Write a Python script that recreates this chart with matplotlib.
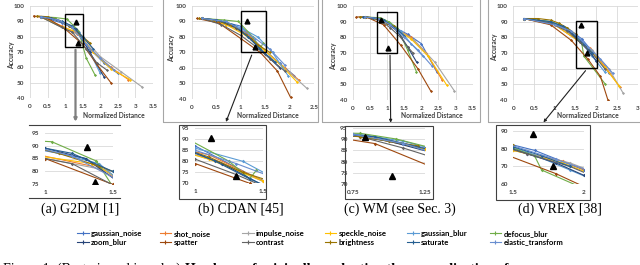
import matplotlib
matplotlib.use('Agg')
import matplotlib.pyplot as plt
from matplotlib.lines import Line2D
from matplotlib.patches import Rectangle, FancyArrowPatch

plt.rcParams['font.family'] = ['Lato', 'DejaVu Sans']

# ---------------- data ----------------
corruptions = ['gaussian_noise', 'shot_noise', 'impulse_noise', 'speckle_noise',
               'gaussian_blur', 'defocus_blur', 'zoom_blur', 'spatter',
               'contrast', 'brightness', 'saturate', 'elastic_transform']
colors = ['#4472C4', '#ED7D31', '#A5A5A5', '#FFC000', '#5B9BD5', '#70AD47',
          '#264478', '#9E480E', '#636363', '#997300', '#255E91', '#698ED0']

g2dm_x = [[0.3, 0.9, 1.3, 1.7, 2.1, 2.5], [0.3, 0.9, 1.35, 1.8, 2.3, 2.8],
          [0.3, 1.0, 1.5, 2.0, 2.6, 3.2], [0.3, 0.95, 1.35, 1.8, 2.3, 2.85],
          [0.3, 0.7, 1.1, 1.4, 1.7, 2.0], [0.3, 0.7, 1.05, 1.38, 1.6, 1.85],
          [0.3, 0.6, 1.0, 1.3, 1.7, 2.1], [0.1, 0.5, 1.0, 1.5, 1.9, 2.3],
          [0.3, 0.9, 1.2, 1.6, 1.9, 2.2], [0.2, 0.5, 0.8, 1.1, 1.4, 1.7],
          [0.3, 0.6, 0.9, 1.2, 1.5, 1.8], [0.3, 0.8, 1.2, 1.6, 2.0, 2.4]]
g2dm_y = [[93, 89, 85, 72, 63, 56], [93, 87, 82, 70, 60, 52],
          [93, 85, 80, 67, 57, 47], [93, 86, 83, 70, 59, 52],
          [93, 92, 87, 83, 70, 56], [93, 92.5, 91.5, 84, 66, 55],
          [93, 92, 89, 85, 70, 54], [93.5, 92, 85, 75, 62, 50],
          [93, 86, 83, 72, 63, 58], [93.5, 93, 91, 87, 82, 76],
          [93, 92, 90, 87, 80, 72], [93, 91, 86, 75, 66, 58]]
g2dm_tri_x = [1.31, 1.37]
g2dm_tri_y = [89.5, 76]

cdan_x = [[0.2, 0.6, 1.0, 1.4, 1.8, 2.1], [0.2, 0.7, 1.1, 1.5, 1.9, 2.2],
          [0.2, 0.8, 1.2, 1.6, 2.0, 2.35], [0.2, 0.7, 1.1, 1.5, 1.85, 2.15],
          [0.2, 0.6, 1.0, 1.35, 1.65, 1.97], [0.2, 0.65, 0.95, 1.25, 1.4, 1.45],
          [0.2, 0.5, 0.9, 1.2, 1.5, 1.8], [0.1, 0.55, 1.0, 1.4, 1.75, 2.02],
          [0.2, 0.6, 1.0, 1.3, 1.6, 1.9], [0.15, 0.45, 0.8, 1.1, 1.35, 1.6],
          [0.2, 0.5, 0.85, 1.15, 1.4, 1.7], [0.2, 0.7, 1.0, 1.3, 1.6, 1.9]]
cdan_y = [[92, 90, 87, 74, 63, 55], [92, 88, 83, 71, 60, 52],
          [92, 87, 79, 68, 57, 47], [92, 88, 81, 71, 61, 51],
          [92, 90, 86, 80, 70, 55], [92, 91, 90, 80, 72, 76],
          [92, 91, 86, 79, 69, 60], [92, 89, 79, 70, 58, 41],
          [92, 88, 81, 74, 66, 58], [92, 91, 88, 82, 75, 70],
          [92, 91, 88, 80, 72, 64], [92, 90, 85, 79, 72, 62]]
cdan_tri_x = [1.12, 1.3]
cdan_tri_y = [90.5, 73.5]

wm_x = [[0.35, 0.85, 1.25, 1.6, 2.0, 2.45], [0.35, 0.85, 1.25, 1.7, 2.15, 2.6],
        [0.35, 0.9, 1.3, 1.8, 2.4, 2.96], [0.35, 0.85, 1.25, 1.7, 2.2, 2.74],
        [0.35, 0.8, 1.1, 1.4, 1.7, 2.05], [0.35, 0.8, 1.05, 1.3, 1.6, 1.86],
        [0.35, 0.7, 1.0, 1.3, 1.6, 1.87], [0.1, 0.4, 0.9, 1.4, 1.9, 2.27],
        [0.35, 0.8, 1.1, 1.4, 1.6, 1.76], [0.2, 0.4, 0.6, 0.8, 1.0, 1.2],
        [0.3, 0.6, 0.9, 1.1, 1.3, 1.5], [0.35, 0.75, 1.1, 1.5, 1.9, 2.3]]
wm_y = [[93, 91.5, 86, 82, 76, 58], [93, 91, 85.5, 80, 70, 53],
        [93, 91, 85, 78, 64, 46], [93, 91, 85.5, 79, 68, 49.6],
        [93, 92, 89, 84, 76, 68], [93, 92.5, 90, 86, 72, 58],
        [93, 92, 89, 84, 74, 64], [93, 93, 88, 75, 60, 46],
        [93, 91, 86, 80, 74, 70], [93, 93, 92.5, 91, 89, 87],
        [93, 92.5, 91, 88, 85, 81], [93, 92, 88, 80, 72, 62]]
wm_tri_x = [0.83, 1.02]
wm_tri_y = [91, 73.5]

vrex_x = [[0.25, 0.9, 1.3, 1.65, 2.0, 2.31], [0.25, 1.0, 1.5, 1.85, 2.2, 2.56],
          [0.25, 1.0, 1.5, 1.9, 2.3, 2.64], [0.25, 1.0, 1.5, 1.85, 2.2, 2.55],
          [0.25, 0.9, 1.3, 1.6, 1.9, 2.2], [0.25, 0.9, 1.3, 1.65, 1.7, 2.22],
          [0.25, 0.9, 1.3, 1.6, 1.8, 2.0], [0.25, 0.9, 1.4, 1.8, 2.1, 2.28],
          [0.25, 0.9, 1.3, 1.6, 1.9, 2.2], [0.25, 0.6, 0.9, 1.1, 1.3, 1.5],
          [0.25, 0.9, 1.2, 1.5, 1.7, 1.9], [0.25, 1.0, 1.4, 1.8, 2.1, 2.4]]
vrex_y = [[92, 89, 86, 79, 68, 57], [92, 88, 79, 73, 62, 48.5],
          [92, 88, 79, 72, 60, 44.7], [92, 88, 79, 72, 61, 49],
          [92, 90, 86, 78, 68, 58], [92, 90, 86, 76, 68, 50],
          [92, 89, 85, 77, 72, 65], [92, 88, 78, 66, 55, 40],
          [92, 89, 84, 77, 70, 60], [92, 92, 91, 89, 86, 82],
          [92, 90, 87, 81, 76, 70], [92, 88, 84, 74, 66, 57]]
vrex_tri_x = [1.64, 1.78]
vrex_tri_y = [88, 70]

captions = ['(a) G2DM [1]', '(b) CDAN [45]', '(c) WM (see Sec. 3)', '(d) VREX [38]']
fig_caption_plain = 'Figure 1: (Best viewed in color)'
fig_caption_bold = 'Hardness of originally evaluating the generalization of'

# ---------------- layout helpers ----------------
W, H = 640, 265
fig = plt.figure(figsize=(6.4, 2.65), dpi=100)


def rect(x0, y0, x1, y1):
    return [x0 / W, 1 - y1 / H, (x1 - x0) / W, (y1 - y0) / H]


def fx(x):
    return x / W


def fy(y):
    return 1 - y / H


TXT = '#404040'
GRID = '#D9D9D9'

panels = [
    dict(xs=g2dm_x, ys=g2dm_y, tx=g2dm_tri_x, ty=g2dm_tri_y,
         main=(30, 6, 153, 98), xmax=3.5, xlabc=114, ylabx=12, ylabc=55,
         ins=(45, 132.7, 112.7, 184.3), ixl=(1, 1.5), iyl=(75, 95), iyt=[75, 80, 85, 90, 95],
         ixt=[1, 1.5], box=(1.0, 73, 1.5, 95),
         conn=((75.5, 47), (75.5, 124.5), '#7F7F7F', 1.6), cap=80),
    dict(xs=cdan_x, ys=cdan_y, tx=cdan_tri_x, ty=cdan_tri_y,
         main=(192, 6, 314, 99), xmax=2.5, xlabc=268, ylabx=172, ylabc=48,
         ins=(195, 128.3, 263.3, 183.3), ixl=(1, 1.5), iyl=(70, 95), iyt=[70, 75, 80, 85, 90, 95],
         ixt=[1, 1.5], box=(1.0, 70, 1.52, 97),
         conn=((252.7, 52.5), (225, 124.5), '#202020', 0.8), cap=241),
    dict(xs=wm_x, ys=wm_y, tx=wm_tri_x, ty=wm_tri_y,
         main=(352.7, 6, 472.7, 100), xmax=3.5, xlabc=432, ylabx=334, ylabc=56,
         ins=(353.3, 127.7, 425, 184.3), ixl=(0.75, 1.25), iyl=(70, 95), iyt=[70, 75, 80, 85, 90, 95],
         ixt=[0.75, 1.25], box=(0.72, 70, 1.3, 96),
         conn=((390, 52.5), (390.7, 125.5), '#202020', 0.8), cap=400),
    dict(xs=vrex_x, ys=vrex_y, tx=vrex_tri_x, ty=vrex_tri_y,
         main=(513.3, 6, 637.8, 100), xmax=3.0, xlabc=588, ylabx=495, ylabc=47,
         ins=(513.3, 130.7, 584, 184.3), ixl=(1.5, 2.0), iyl=(60, 90), iyt=[60, 70, 80, 90],
         ixt=[1.5, 2], box=(1.52, 60.3, 2.02, 90.6),
         conn=((587.3, 68.5), (541.7, 124.5), '#202020', 0.8), cap=560),
]


def fmt(v):
    return ('%g' % v)


def draw_series(ax, xs, ys, ms):
    for i in range(len(corruptions)):
        ax.plot(xs[i], ys[i], color=colors[i], lw=0.8, marker='D', ms=ms,
                mew=0, solid_capstyle='round', zorder=2)


for k, p in enumerate(panels):
    x0, y0, x1, y1 = p['main']
    ax = fig.add_axes(rect(x0, y0, x1, y1))
    draw_series(ax, p['xs'], p['ys'], 1.6)
    ax.plot(p['tx'], p['ty'], ls='none', marker='^', color='black', ms=3.5, zorder=4)
    bx0, by0, bx1, by1 = p['box']
    ax.add_patch(Rectangle((bx0, by0), bx1 - bx0, by1 - by0, fill=False,
                           ec='black', lw=1.0, zorder=5))
    ax.set_xlim(0, p['xmax'])
    ax.set_ylim(40, 100)
    xt = [i * 0.5 for i in range(int(p['xmax'] / 0.5) + 1)]
    ax.set_xticks(xt)
    ax.set_xticklabels([fmt(v) for v in xt])
    ax.set_yticks(range(40, 101, 10))
    ax.set_yticklabels([str(v) for v in range(40, 101, 10)])
    ax.grid(True, color=GRID, lw=0.6)
    ax.set_axisbelow(True)
    for s in ax.spines.values():
        s.set_visible(False)
    ax.tick_params(length=0, labelsize=4.6, labelcolor=TXT, pad=4)
    for lab in ax.get_xticklabels() + ax.get_yticklabels():
        lab.set_fontweight('bold')
    fig.text(fx(p['xlabc']), fy(115.5), 'Normalized Distance', ha='center', va='center',
             fontsize=4.8, color=TXT, fontweight='bold')
    fig.text(fx(p['ylabx']), fy(p['ylabc']), 'Accuracy', ha='center', va='center',
             rotation=90, fontsize=4.8, color=TXT, fontweight='bold')

    # inset
    ix0, iy0, ix1, iy1 = p['ins']
    axi = fig.add_axes(rect(ix0, iy0, ix1, iy1))
    draw_series(axi, p['xs'], p['ys'], 1.8)
    axi.plot(p['tx'], p['ty'], ls='none', marker='^', color='black', ms=4.5, zorder=4)
    axi.set_xlim(*p['ixl'])
    axi.set_ylim(*p['iyl'])
    axi.set_yticks(p['iyt'])
    axi.set_yticklabels([str(v) for v in p['iyt']])
    axi.set_xticks(p['ixt'])
    axi.set_xticklabels([fmt(v) for v in p['ixt']])
    axi.grid(True, axis='y', color=GRID, lw=0.6)
    axi.set_axisbelow(True)
    for s in axi.spines.values():
        s.set_visible(False)
    axi.tick_params(length=0, labelsize=4.6, labelcolor=TXT, pad=4)
    for lab in axi.get_xticklabels() + axi.get_yticklabels():
        lab.set_fontweight('bold')

    (ax0, ay0), (ax1, ay1), cc, lw = p['conn']
    fig.add_artist(FancyArrowPatch((fx(ax0), fy(ay0)), (fx(ax1), fy(ay1)),
                                   transform=fig.transFigure, arrowstyle='-|>',
                                   mutation_scale=4, lw=lw, color=cc, zorder=10))

    fig.text(fx(p['cap']), fy(209.5), captions[k], ha='center', va='center',
             fontsize=10, family='Liberation Serif', color='black')

# chart frames
FR = '#A6A6A6'
fig.add_artist(Line2D([fx(29), fx(120)], [fy(124.5), fy(124.5)], color='#404040', lw=0.8))
fig.add_artist(Line2D([fx(29), fx(120)], [fy(198.3), fy(198.3)], color='#404040', lw=0.8))
for (a, b, c, d) in [(179, 125, 266, 199), (345, 126, 433, 199.3), (496, 125, 590, 200)]:
    fig.add_artist(Rectangle((fx(a), fy(d)), fx(c) - fx(a), fy(b) - fy(d), fill=False,
                             ec='#404040', lw=0.8, transform=fig.transFigure))
for (a, b, c, d) in [(162.5, -2, 318, 121.5), (322, -2, 480, 121.5), (488, -2, 645, 121.5)]:
    fig.add_artist(Rectangle((fx(a), fy(d)), fx(c) - fx(a), fy(b) - fy(d), fill=False,
                             ec=FR, lw=0.8, transform=fig.transFigure))

# legend: six columns of two entries
handles = [Line2D([], [], color=colors[i], lw=0.8, marker='+', ms=3, mew=0.8)
           for i in range(len(corruptions))]
col_x = [77, 159.5, 242, 324.5, 407, 489.5]
for c in range(6):
    idx = [c, c + 6]
    fig.legend([handles[i] for i in idx], [corruptions[i] for i in idx],
               loc='upper left', bbox_to_anchor=(fx(col_x[c]), fy(230)),
               frameon=False, handlelength=1.5, handletextpad=0.3,
               labelspacing=0.2, borderpad=0, borderaxespad=0,
               prop={'weight': 'bold', 'size': 5.6})

# figure caption, cut by the bottom edge as in the source
t1 = fig.text(fx(3), fy(263.0), fig_caption_plain, ha='left', va='top',
              fontsize=10, family='Liberation Serif')
fig.canvas.draw()
bb = t1.get_window_extent(renderer=fig.canvas.get_renderer())
fig.text(bb.x1 / W + fx(4), fy(263.0), fig_caption_bold,
         ha='left', va='top', fontsize=10, family='Liberation Serif', fontweight='bold')

fig.savefig('out.png', dpi=100)
